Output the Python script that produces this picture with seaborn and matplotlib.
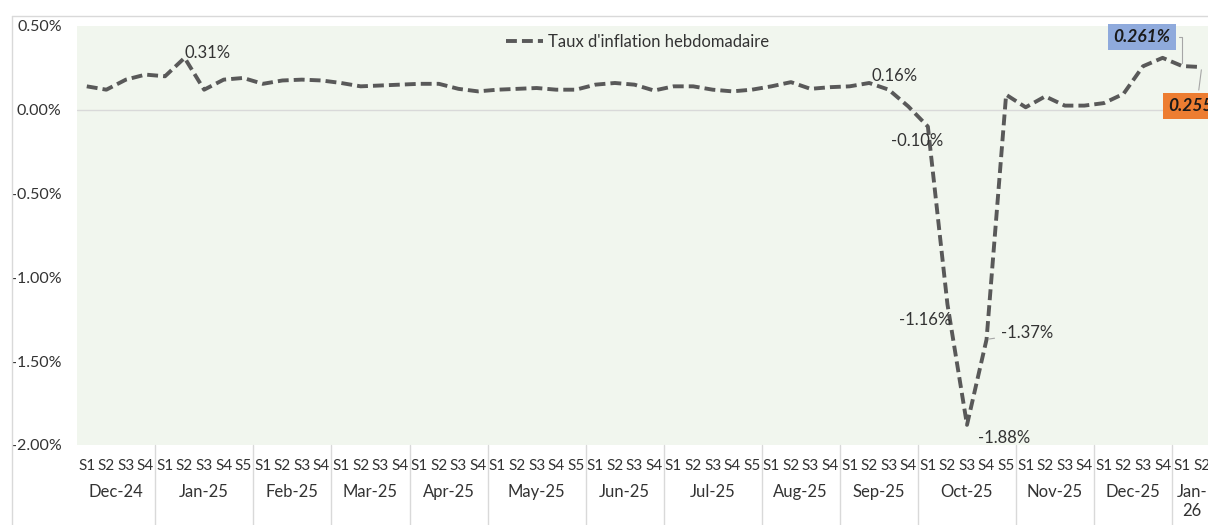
import matplotlib.pyplot as plt
import matplotlib.transforms as mtransforms
from matplotlib.lines import Line2D
from matplotlib.ticker import PercentFormatter
import numpy as np
import pandas as pd
import seaborn as sns

# weekly inflation rate (%)
months = ["Dec-24", "Jan-25", "Feb-25", "Mar-25", "Apr-25", "May-25", "Jun-25",
          "Jul-25", "Aug-25", "Sep-25", "Oct-25", "Nov-25", "Dec-25", "Jan-\n26"]
weeks_per_month = [4, 5, 4, 4, 4, 5, 4, 5, 4, 4, 5, 4, 4, 2]
rates = [0.14, 0.12, 0.18, 0.21, 0.20, 0.31, 0.12, 0.18, 0.19, 0.155,
         0.175, 0.18, 0.175, 0.16, 0.14, 0.145, 0.15, 0.155, 0.155, 0.125,
         0.11, 0.12, 0.125, 0.13, 0.12, 0.12, 0.15, 0.16, 0.15, 0.115,
         0.14, 0.14, 0.12, 0.11, 0.12, 0.14, 0.165, 0.125, 0.135, 0.14,
         0.16, 0.12, 0.02, -0.10, -1.16, -1.88, -1.37, 0.09, 0.015, 0.08,
         0.025, 0.025, 0.04, 0.095, 0.26, 0.31, 0.261, 0.255]
series_name = "Taux d'inflation hebdomadaire"
labelled_weeks = [5, 40, 43, 44, 45, 46]

week_labels = ["S%d" % (k + 1) for n in weeks_per_month for k in range(n)]
df = pd.DataFrame({"week": np.arange(len(rates)), "rate": rates})

W, H = 1208, 525
sns.set_theme(style="white")
plt.rcParams["font.family"] = ["Lato", "DejaVu Sans"]
plt.rcParams["axes.unicode_minus"] = False
txt = "#333333"

fig = plt.figure(figsize=(W / 100, H / 100), dpi=100)
fig.patch.set_facecolor("white")
ax = fig.add_axes([77 / W, 80 / H, 1134.5 / W, 419 / H])
ax.set_facecolor("#F1F6EE")
for s in ax.spines.values():
    s.set_visible(False)

# chart area border (right/bottom edges fall outside the crop)
fig.add_artist(Line2D([12 / W, 12 / W], [0, 1 - 16 / H], color="#D9D9D9", lw=1))
fig.add_artist(Line2D([12 / W, 1], [1 - 16 / H, 1 - 16 / H], color="#D9D9D9", lw=1))

ax.axhline(0, color="#D9D9D9", lw=1, zorder=1)
sns.lineplot(data=df, x="week", y="rate", ax=ax, color="#595959", linewidth=2.8,
             linestyle=(0, (2.8, 1.3)), label=series_name, zorder=3)

ax.set_xlim(-0.5, len(rates) - 0.5)
ax.set_ylim(-2.0, 0.5)
ax.set_yticks(np.arange(-2.0, 0.51, 0.5))
ax.yaxis.set_major_formatter(PercentFormatter(xmax=100, decimals=2))
ax.tick_params(axis="y", length=0, pad=11, labelsize=11.5, labelcolor=txt)
ax.set_xticks(df["week"])
ax.set_xticklabels(week_labels)
ax.tick_params(axis="x", length=0, pad=10, labelsize=11, labelcolor=txt)
ax.set_xlabel("")
ax.set_ylabel("")

# month level of the category axis
trans = mtransforms.blended_transform_factory(ax.transData, ax.transAxes)
edges = np.cumsum([0] + weeks_per_month) - 0.5
for m, lo, hi in zip(months, edges[:-1], edges[1:]):
    ax.text((lo + hi) / 2, -39 / 419, m, transform=trans, ha="center", va="top",
            fontsize=12, color=txt, linespacing=1.25)
for e in edges[1:-1]:
    ax.plot([e, e], [0, -0.2], transform=trans, color="#D9D9D9", lw=1, clip_on=False)

# data labels
offsets = {5: (0, 5), 40: (2, 7), 43: (-11, -14), 44: (-22, -16), 45: (11, -13), 46: (14, 6)}
has = {5: "left", 40: "left", 43: "center", 44: "center", 45: "left", 46: "left"}
for i in labelled_weeks:
    arrow = dict(arrowstyle="-", color="#A6A6A6", lw=0.8) if i == 46 else None
    ax.annotate(f"{rates[i]:.2f}%", xy=(i, rates[i]), xytext=offsets[i],
                textcoords="offset pixels", ha=has[i], va="center", fontsize=12,
                color=txt, arrowprops=arrow, zorder=4)

# highlighted last two weeks
last = len(rates) - 1
ax.annotate(f"{rates[last - 1]:.3f}%", xy=(last - 1, rates[last - 1]), xytext=(-40, 29),
            textcoords="offset pixels", ha="center", va="center", fontsize=12.5,
            fontweight="bold", fontstyle="italic", color="#1a1a1a",
            bbox=dict(boxstyle="square,pad=0.3", fc="#8FAADC", ec="none"),
            arrowprops=dict(arrowstyle="-", color="#A6A6A6", lw=0.8,
                            connectionstyle="angle,angleA=0,angleB=90,rad=0"),
            annotation_clip=False, zorder=5)
ax.annotate(f"{rates[last]:.3f}%", xy=(last, rates[last]), xytext=(-5, -39),
            textcoords="offset pixels", ha="center", va="center", fontsize=12.5,
            fontweight="bold", fontstyle="italic", color="#1a1a1a",
            bbox=dict(boxstyle="square,pad=0.3", fc="#ED7D31", ec="none"),
            arrowprops=dict(arrowstyle="-", color="#A6A6A6", lw=0.8),
            annotation_clip=False, zorder=5)

ax.legend(loc="center", bbox_to_anchor=(0.494, 0.962), frameon=False, fontsize=12,
          handlelength=2.2, handletextpad=0.3, labelcolor=txt)

fig.savefig("out.png", dpi=100)
